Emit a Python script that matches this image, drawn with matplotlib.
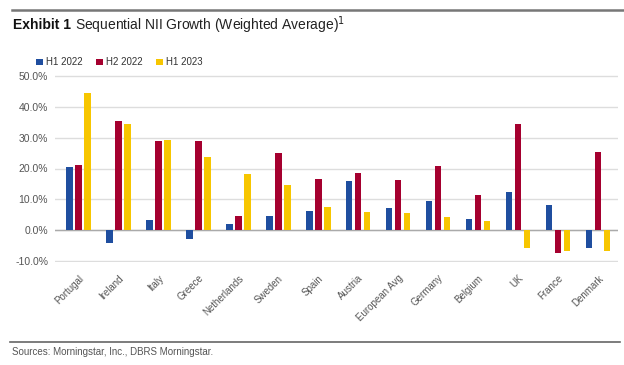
import numpy as np
import matplotlib
matplotlib.use('Agg')
import matplotlib.pyplot as plt
from matplotlib.lines import Line2D

# Sequential NII growth (weighted average), in percent
countries = ['Portugal', 'Ireland', 'Italy', 'Greece', 'Netherlands', 'Sweden', 'Spain',
             'Austria', 'European Avg', 'Germany', 'Belgium', 'UK', 'France', 'Denmark']
h1_2022 = [20.6, -4.2, 3.3, -2.9, 2.0, 4.5, 6.3, 15.9, 7.3, 9.5, 3.6, 12.4, 8.0, -5.7]
h2_2022 = [21.3, 35.5, 28.8, 29.0, 4.7, 25.2, 16.7, 18.5, 16.3, 20.8, 11.5, 34.5, -7.4, 25.5]
h1_2023 = [44.7, 34.4, 29.3, 23.6, 18.2, 14.5, 7.5, 5.7, 5.4, 4.2, 3.0, -5.9, -6.7, -6.7]
series_names = ['H1 2022', 'H2 2022', 'H1 2023']
y_ticks = [-10, 0, 10, 20, 30, 40, 50]

COLORS = ['#1F4E9F', '#A5002F', '#F7C600']
GREY = '#555555'

plt.rcParams['font.family'] = ['Liberation Sans', 'DejaVu Sans']

W, H = 624, 365
fig = plt.figure(figsize=(W / 100, H / 100), dpi=100)

# Frame rules and titles
fig.add_artist(Line2D([12 / W, 1.0], [1 - 9.5 / H] * 2, color='#777777', lw=1.8))
fig.add_artist(Line2D([10 / W, 620 / W], [1 - 342 / H] * 2, color='#666666', lw=1.2))
t1 = fig.text(13 / W, 1 - 25 / H, 'Exhibit 1', fontsize=10, fontweight='bold', va='center',
              color='#111111')
fig.canvas.draw()
bb = t1.get_window_extent()
fig.text((bb.x1 + 4) / W, 1 - 25 / H, 'Sequential NII Growth (Weighted Average)$^{1}$',
         fontsize=10, va='center', color='#222222')
fig.text(12 / W, 1 - 352 / H, 'Sources: Morningstar, Inc., DBRS Morningstar.', fontsize=7,
         va='center', color=GREY)

# Plot area
ax = fig.add_axes([55 / W, 103 / H, 563 / W, 187 / H])
x = np.arange(len(countries))
bw = 0.17
step = 0.225
for i, vals in enumerate([h1_2022, h2_2022, h1_2023]):
    ax.bar(x + (i - 1) * step, vals, width=bw, color=COLORS[i], label=series_names[i], zorder=3)

ax.set_xlim(-0.58, 13.5)
ax.set_ylim(-10.4, 50.4)
ax.set_yticks(y_ticks)
ax.set_yticklabels(['{:.1f}%'.format(v) for v in y_ticks])
ax.grid(axis='y', color='#DDDDDD', lw=1, zorder=0)
ax.axhline(0, color='#AAAAAA', lw=1, zorder=2)
for s in ax.spines.values():
    s.set_visible(False)
ax.tick_params(axis='both', length=0, labelsize=7.5, colors=GREY, pad=5)
ax.set_xticks(x)
ax.set_xticklabels(countries, rotation=45, ha='right', rotation_mode='anchor', fontsize=7)
ax.tick_params(axis='x', pad=8)

leg = ax.legend(loc='lower left', bbox_to_anchor=(-0.04, 1.02), ncol=3, frameon=False,
                fontsize=7, handlelength=0.7, handleheight=0.7, handletextpad=0.3,
                columnspacing=1.4, borderaxespad=0)
for t in leg.get_texts():
    t.set_color('#333333')

fig.savefig('out.png', dpi=100)
